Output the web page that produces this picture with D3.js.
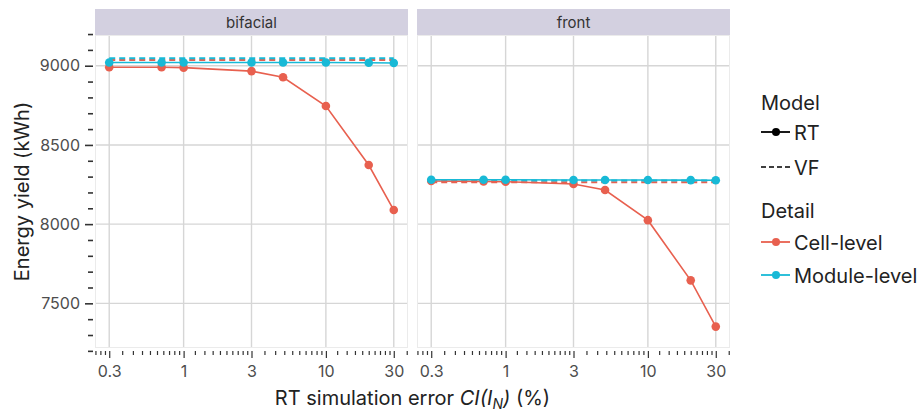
<!DOCTYPE html>
<html>
<head>
<meta charset="utf-8">
<script src="https://cdn.jsdelivr.net/npm/d3@7"></script>
<style>
  body { margin: 0; background: #fff; }
  text { font-family: Inter, "Noto Sans", sans-serif; }
</style>
</head>
<body>
<div id="chart"></div>
<script>
// data
const errors = [0.3, 0.7, 1, 3, 5, 10, 20, 30];
const panels = ["bifacial", "front"];

const bifacialCellRT   = [8990, 8990, 8988, 8966, 8927, 8746, 8373, 8089];
const bifacialModuleRT = [9020, 9020, 9020, 9020, 9020, 9020, 9019, 9017];
const bifacialCellVF   = [9036, 9036, 9036, 9036, 9036, 9036, 9036, 9036];
const bifacialModuleVF = [9047, 9047, 9047, 9047, 9047, 9047, 9047, 9047];

const frontCellRT   = [8272, 8270, 8268, 8253, 8215, 8025, 7645, 7353];
const frontModuleRT = [8280, 8280, 8280, 8279, 8279, 8279, 8278, 8277];
const frontCellVF   = [8265, 8265, 8265, 8265, 8265, 8265, 8265, 8265];
const frontModuleVF = [8275, 8275, 8275, 8275, 8275, 8275, 8275, 8275];

const xMajor = [0.3, 1, 3, 10, 30];
const xMinorBounds = [0.1, 0.3, 1, 3, 10, 30, 100];
const yMajor = [7500, 8000, 8500, 9000];
const yMinorStep = 100;

const red = "#e8604f", cyan = "#18b9d6";

const seriesByPanel = {
  bifacial: [
    {model: "VF", detail: "Cell-level", values: bifacialCellVF},
    {model: "VF", detail: "Module-level", values: bifacialModuleVF},
    {model: "RT", detail: "Cell-level", values: bifacialCellRT},
    {model: "RT", detail: "Module-level", values: bifacialModuleRT}
  ],
  front: [
    {model: "VF", detail: "Cell-level", values: frontCellVF},
    {model: "VF", detail: "Module-level", values: frontModuleVF},
    {model: "RT", detail: "Cell-level", values: frontCellRT},
    {model: "RT", detail: "Module-level", values: frontModuleRT}
  ]
};

const color = d3.scaleOrdinal().domain(["Cell-level", "Module-level"]).range([red, cyan]);

const W = 921, H = 414;
const svg = d3.select("#chart").append("svg")
  .attr("width", W).attr("height", H);

const plotTop = 35, plotBottom = 348;
const panelX = [[95, 408], [417, 730]];

const y = d3.scaleLinear().domain([7218, 9194]).range([plotBottom, plotTop]);

// minor x ticks: 9 linear steps between neighbouring breaks
const xMinor = [];
for (let i = 0; i < xMinorBounds.length - 1; i++) {
  const a = xMinorBounds[i], b = xMinorBounds[i + 1];
  for (let k = 1; k < 10; k++) xMinor.push(a + (b - a) * k / 10);
}
const yMinor = d3.range(7200, 9300, yMinorStep).filter(v => yMajor.indexOf(v) < 0);

const line = d3.line();

panels.forEach(function(p, i) {
  const [x0, x1] = panelX[i];
  const x = d3.scaleLog()
    .domain([Math.pow(10, Math.log10(0.3) - 0.1), Math.pow(10, Math.log10(30) + 0.1)])
    .range([x0, x1]);

  const g = svg.append("g");

  // strip
  g.append("rect")
    .attr("x", x0).attr("y", 9).attr("width", x1 - x0).attr("height", plotTop - 9)
    .attr("fill", "#d3d0e0");
  g.append("text")
    .attr("x", (x0 + x1) / 2).attr("y", 27.5)
    .attr("text-anchor", "middle")
    .style("font-size", "15px").attr("fill", "#333")
    .text(p);

  // panel
  g.append("rect")
    .attr("x", x0 + 0.5).attr("y", plotTop + 0.5).attr("width", x1 - x0 - 1).attr("height", plotBottom - plotTop - 1)
    .attr("fill", "#fff").attr("stroke", "#ebebeb");

  g.selectAll(".vgrid").data(xMajor).join("line")
    .attr("x1", d => x(d)).attr("x2", d => x(d))
    .attr("y1", plotTop + 1).attr("y2", plotBottom - 1)
    .attr("stroke", "#d6d6d6").attr("stroke-width", 1.4);
  g.selectAll(".hgrid").data(yMajor).join("line")
    .attr("x1", x0 + 1).attr("x2", x1 - 1)
    .attr("y1", d => y(d)).attr("y2", d => y(d))
    .attr("stroke", "#d6d6d6").attr("stroke-width", 1.4);

  // x axis
  const xMinorIn = xMinor.filter(v => x(v) >= x0 && x(v) <= x1 && xMajor.indexOf(+v.toFixed(6)) < 0);
  const axMinor = g.append("g")
    .attr("transform", `translate(0, ${plotBottom + 3})`)
    .call(d3.axisBottom(x).tickValues(xMinorIn).tickSize(4).tickFormat(""));
  const axMajor = g.append("g")
    .attr("transform", `translate(0, ${plotBottom + 3})`)
    .call(d3.axisBottom(x).tickValues(xMajor).tickSize(7).tickPadding(8)
      .tickFormat(d => String(d)));
  [axMinor, axMajor].forEach(a => {
    a.select(".domain").remove();
    a.selectAll(".tick line").attr("stroke", "#333").attr("stroke-width", 1.2);
    a.selectAll("text").style("font-size", "16px").attr("fill", "#4d4d4d");
  });

  // series
  const data = seriesByPanel[p];
  data.filter(s => s.model === "VF").forEach(s => {
    g.append("path")
      .attr("d", line(errors.map((e, j) => [x(e), y(s.values[j])])))
      .attr("fill", "none").attr("stroke", color(s.detail))
      .attr("stroke-width", 2).attr("stroke-dasharray", "6,4");
  });
  data.filter(s => s.model === "RT").forEach(s => {
    g.append("path")
      .attr("d", line(errors.map((e, j) => [x(e), y(s.values[j])])))
      .attr("fill", "none").attr("stroke", color(s.detail))
      .attr("stroke-width", 1.6);
    g.selectAll(null).data(s.values).join("circle")
      .attr("cx", (d, j) => x(errors[j])).attr("cy", d => y(d))
      .attr("r", 4.3).attr("fill", color(s.detail));
  });
});

// y axis on the left panel
const yMin = svg.append("g").attr("transform", "translate(93,0)")
  .call(d3.axisLeft(y).tickValues(yMinor).tickSize(5).tickFormat(""));
const yMaj = svg.append("g").attr("transform", "translate(93,0)")
  .call(d3.axisLeft(y).tickValues(yMajor).tickSize(8).tickPadding(5).tickFormat(d3.format("d")));
[yMin, yMaj].forEach(a => {
  a.select(".domain").remove();
  a.selectAll(".tick line").attr("stroke", "#333").attr("stroke-width", 1.6);
  a.selectAll("text").style("font-size", "16px").attr("fill", "#4d4d4d");
});

// axis titles
svg.append("text")
  .attr("transform", `translate(29, ${(plotTop + plotBottom) / 2}) rotate(-90)`)
  .attr("text-anchor", "middle")
  .style("font-size", "20px").attr("fill", "#222")
  .text("Energy yield (kWh)");

const xt = svg.append("text")
  .attr("x", (95 + 730) / 2).attr("y", 405)
  .attr("text-anchor", "middle")
  .style("font-size", "20px").attr("fill", "#222");
xt.append("tspan").text("RT simulation error ");
xt.append("tspan").style("font-style", "italic").text("CI(I");
xt.append("tspan").style("font-style", "italic").style("font-size", "14px").attr("dy", 4).text("N");
xt.append("tspan").style("font-style", "italic").attr("dy", -4).text(")");
xt.append("tspan").text(" (%)");

// legend
const lg = svg.append("g");
const lx = 761;
const fs = "20px";
lg.append("text").attr("x", lx).attr("y", 110).style("font-size", fs).attr("fill", "#222").text("Model");
lg.append("line").attr("x1", lx).attr("x2", lx + 29).attr("y1", 132).attr("y2", 132)
  .attr("stroke", "#000").attr("stroke-width", 1.8);
lg.append("circle").attr("cx", lx + 15).attr("cy", 132).attr("r", 4).attr("fill", "#000");
lg.append("text").attr("x", lx + 33).attr("y", 139.5).style("font-size", fs).attr("fill", "#222").text("RT");
lg.append("line").attr("x1", lx).attr("x2", lx + 29).attr("y1", 167).attr("y2", 167)
  .attr("stroke", "#000").attr("stroke-width", 1.6).attr("stroke-dasharray", "5,3");
lg.append("text").attr("x", lx + 33).attr("y", 174.5).style("font-size", fs).attr("fill", "#222").text("VF");

lg.append("text").attr("x", lx).attr("y", 218).style("font-size", fs).attr("fill", "#222").text("Detail");
color.domain().forEach(function(d, i) {
  const yy = 242 + i * 33;
  lg.append("line").attr("x1", lx).attr("x2", lx + 29).attr("y1", yy).attr("y2", yy)
    .attr("stroke", color(d)).attr("stroke-width", 1.8);
  lg.append("circle").attr("cx", lx + 15).attr("cy", yy).attr("r", 4).attr("fill", color(d));
  lg.append("text").attr("x", lx + 33).attr("y", yy + 7.5).style("font-size", fs).attr("fill", "#222").text(d);
});
</script>
</body>
</html>
